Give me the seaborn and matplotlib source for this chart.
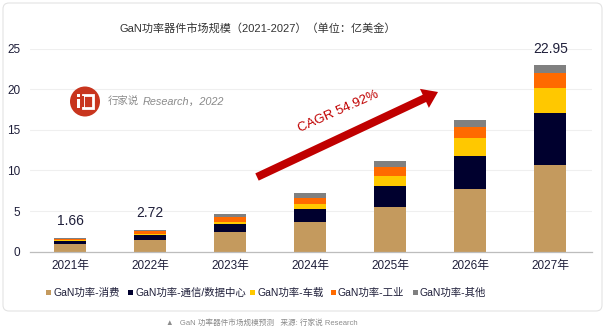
import numpy as np
import pandas as pd
import seaborn as sns
import matplotlib.pyplot as plt
from matplotlib.patches import FancyBboxPatch, Circle, FancyArrow, Rectangle
from matplotlib.transforms import Affine2D

years = ["2021年", "2022年", "2023年", "2024年", "2025年", "2026年", "2027年"]
consumer = [0.95, 1.50, 2.40, 3.60, 5.50, 7.70, 10.70]
telecom_dc = [0.35, 0.55, 0.95, 1.60, 2.60, 4.05, 6.40]
automotive = [0.08, 0.15, 0.35, 0.65, 1.25, 2.20, 3.10]
industrial = [0.18, 0.30, 0.55, 0.80, 1.05, 1.35, 1.75]
other = [0.10, 0.22, 0.35, 0.55, 0.73, 0.86, 1.00]

series_names = ["GaN功率-消费", "GaN功率-通信/数据中心", "GaN功率-车载", "GaN功率-工业", "GaN功率-其他"]
series_colors = ["#C49A5E", "#00002E", "#FFC800", "#FF6A00", "#808080"]
total_labels = {"2021年": "1.66", "2022年": "2.72", "2027年": "22.95"}

sns.set_theme(style="white")
plt.rcParams["font.family"] = ["Liberation Sans", "Noto Sans CJK SC", "DejaVu Sans"]

W, H = 605, 330
fig = plt.figure(figsize=(W / 100, H / 100), dpi=100)
# pixel coordinates, origin at top-left
px = Affine2D().scale(1 / W, -1 / H).translate(0, 1) + fig.transFigure

# card background
card = FancyBboxPatch((3, 3), 599, 308, boxstyle="round,pad=0,rounding_size=6",
                      transform=px, facecolor="white", edgecolor="#E3E3E3",
                      linewidth=0.8, zorder=-5)
fig.patches.append(card)

ax = fig.add_axes([30 / W, 1 - 251.7 / H, (592 - 30) / W, (251.7 - 48.7) / H])
ax.set_facecolor("none")
ax.set_zorder(1)

layers = [consumer, telecom_dc, automotive, industrial, other]
cum = np.cumsum(np.array(layers), axis=0)

# stacked bars: draw cumulative heights from the top layer down
for i in range(4, -1, -1):
    sns.barplot(x=years, y=cum[i], color=series_colors[i], width=0.4,
                saturation=1, ax=ax, linewidth=0, zorder=2)

ax.set_xlim(-0.5, 6.52)
ax.set_ylim(0, 25)
ax.set_yticks([0, 5, 10, 15, 20, 25])
ax.yaxis.grid(True, color="#EFEFEF", linewidth=0.8, zorder=0)
ax.set_axisbelow(True)
for s in ["top", "right", "left"]:
    ax.spines[s].set_visible(False)
ax.spines["bottom"].set_color("#BDBDBD")
ax.spines["bottom"].set_linewidth(0.9)
ax.tick_params(axis="both", length=0, labelsize=8.5, colors="#1F1F3A")
ax.tick_params(axis="y", pad=7)
ax.tick_params(axis="x", pad=6)
ax.set_xlabel("")
ax.set_ylabel("")

totals = cum[-1]
for i, yr in enumerate(years):
    if yr in total_labels:
        ax.annotate(total_labels[yr], (i, totals[i]), xytext=(0, 7),
                    textcoords="offset points", ha="center", va="bottom",
                    fontsize=10, color="#1F1F3A")

# title
fig.text(258, 28, "GaN功率器件市场规模（2021-2027）（单位：亿美金）", transform=px,
         ha="center", va="center", fontsize=8, color="#333333")

# growth arrow and CAGR text
arrow = FancyArrow(257, 177, 438 - 257, 92 - 177, width=8, head_width=21,
                   head_length=15, length_includes_head=True, transform=px,
                   color="#C00000", linewidth=0, zorder=5)
fig.patches.append(arrow)
fig.text(338, 112, "CAGR 54.92%", transform=px, rotation=24, ha="center",
         va="center", fontsize=9.5, color="#C00000", zorder=6)

# brand mark
fig.patches.append(Circle((85, 101.5), 15, transform=px, facecolor="#C8351E",
                          edgecolor="none", zorder=5))
fig.patches.append(Rectangle((76.5, 99), 3, 9, transform=px, facecolor="white",
                             edgecolor="none", zorder=6))
fig.patches.append(Rectangle((76.5, 94), 3, 3, transform=px, facecolor="white",
                             edgecolor="none", zorder=6))
fig.patches.append(Rectangle((82.5, 94.5), 10, 13, transform=px, facecolor="none",
                             edgecolor="white", linewidth=2, zorder=6))
fig.patches.append(Rectangle((80, 95.5), 4, 11, transform=px, facecolor="#C8351E",
                             edgecolor="none", zorder=7))
fig.text(108, 101.5, "行家说", transform=px, ha="left", va="center",
         fontsize=7.5, color="#8A8A8A")
fig.text(143, 101.5, "Research，2022", transform=px, ha="left", va="center",
         fontsize=7.8, color="#8A8A8A", style="italic")

# legend
legend_x = [46, 128, 250, 331, 413]
for xpos, name, col in zip(legend_x, series_names, series_colors):
    fig.patches.append(Rectangle((xpos, 290), 5, 5, transform=px, facecolor=col,
                                 edgecolor="none"))
    fig.text(xpos + 7, 292.5, name, transform=px, ha="left", va="center",
             fontsize=7.5, color="#1F1F3A")

# caption
fig.text(262, 323, "▲   GaN 功率器件市场规模预测   来源: 行家说 Research",
         transform=px, ha="center", va="center", fontsize=5.5, color="#8C8C8C")

fig.savefig("out.png", dpi=100)
